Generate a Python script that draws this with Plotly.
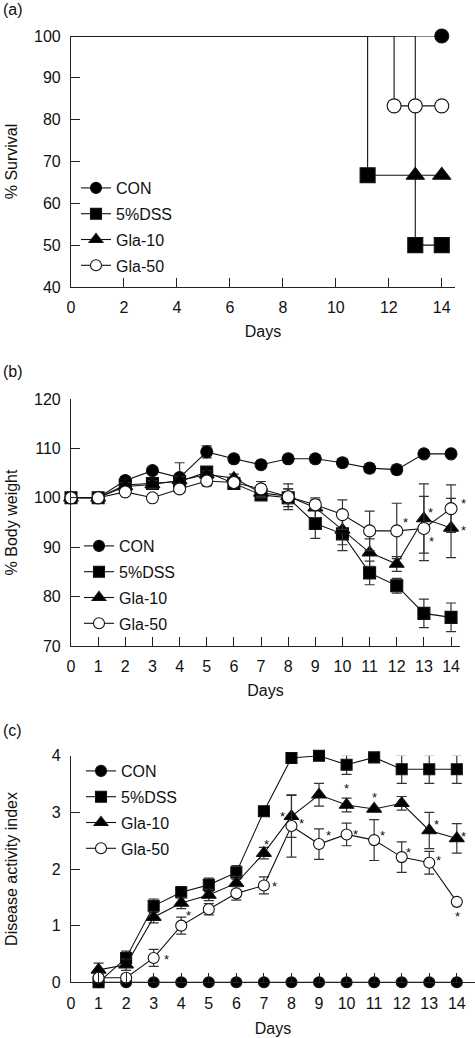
import plotly.graph_objects as go

# ---------------- data ----------------
groups = ["CON", "5%DSS", "Gla-10", "Gla-50"]

# (a) survival (step curves)
surv_days = {
    "CON": [0, 14],
    "5%DSS": [0, 11.2, 13, 14],
    "Gla-10": [0, 13, 14],
    "Gla-50": [0, 12.2, 13, 14],
}
surv_vals = {
    "CON": [100, 100],
    "5%DSS": [100, 66.7, 50, 50],
    "Gla-10": [100, 66.7, 66.7],
    "Gla-50": [100, 83.3, 83.3, 83.3],
}

# (b) body weight
bw_days = list(range(0, 15))
bw_vals = {
    "CON":    [100, 100, 103.5, 105.5, 104.1, 109.3, 107.9, 106.7, 107.9, 107.9, 107.1, 106.0, 105.7, 108.9, 108.9],
    "5%DSS":  [100, 100, 102.6, 102.9, 103.3, 105.2, 102.9, 100.6, 100.0, 94.8, 92.7, 84.8, 82.2, 76.6, 75.8],
    "Gla-10": [100, 100, 102.3, 102.7, 103.5, 104.7, 104.0, 101.0, 100.3, 98.0, 93.5, 88.9, 86.6, 95.8, 93.9],
    "Gla-50": [100, 100, 101.2, 100.0, 101.8, 103.4, 103.1, 101.8, 100.2, 98.6, 96.6, 93.3, 93.3, 93.8, 97.8],
}
bw_err = {
    "CON":    [0, 0, 0.8, 0.6, 3.0, 1.2, 0.8, 0.8, 0.8, 0.8, 0.8, 0.9, 0.9, 0.5, 0.5],
    "5%DSS":  [0, 0, 0.5, 0.8, 1.0, 0.8, 0.7, 0.8, 1.8, 3.0, 3.4, 2.4, 1.5, 2.9, 2.9],
    "Gla-10": [0, 0, 0.8, 0.8, 0.8, 0.8, 0.8, 1.0, 1.5, 2.0, 3.0, 2.8, 1.5, 7.0, 6.0],
    "Gla-50": [0, 0, 0.6, 0.5, 0.6, 1.0, 0.8, 1.5, 2.6, 1.0, 3.0, 4.0, 5.6, 6.5, 4.8],
}
bw_sig = {"Gla-10": [13, 14], "Gla-50": [12, 13, 14]}

# (c) disease activity index
dai_days = list(range(1, 15))
dai_vals = {
    "CON":    [0] * 14,
    "5%DSS":  [0, 0.43, 1.35, 1.59, 1.72, 1.94, 3.02, 3.96, 4.0, 3.84, 3.97, 3.76, 3.76, 3.76],
    "Gla-10": [0.22, 0.31, 1.15, 1.40, 1.54, 1.75, 2.28, 2.93, 3.31, 3.13, 3.06, 3.16, 2.68, 2.54],
    "Gla-50": [0.08, 0.08, 0.43, 1.00, 1.29, 1.57, 1.71, 2.76, 2.44, 2.61, 2.51, 2.21, 2.11, 1.42],
}
dai_err = {
    "CON":    [0] * 14,
    "5%DSS":  [0, 0.12, 0.12, 0.10, 0.12, 0.12, 0.05, 0, 0, 0.17, 0, 0.25, 0.25, 0.25],
    "Gla-10": [0.12, 0.10, 0.10, 0.10, 0.10, 0.12, 0.10, 0.37, 0.20, 0.12, 0, 0.12, 0.32, 0.26],
    "Gla-50": [0.06, 0.06, 0.15, 0.15, 0.10, 0.12, 0.15, 0.55, 0.27, 0.20, 0.36, 0.27, 0.20, 0],
}
dai_sig = {"Gla-10": [7, 8, 10, 11, 13, 14], "Gla-50": [3, 4, 7, 8, 9, 10, 11, 12, 13, 14]}

# ---------------- styles ----------------
FONT = "Liberation Sans, Arial, Helvetica, sans-serif"
INK = "#111111"
AX = "#222222"
sym = {"CON": "circle", "5%DSS": "square", "Gla-10": "triangle-up", "Gla-50": "circle"}
fill = {"CON": "black", "5%DSS": "black", "Gla-10": "black", "Gla-50": "white"}
size_a = {"CON": 14, "5%DSS": 15, "Gla-10": 16, "Gla-50": 14}
size_b = {"CON": 12, "5%DSS": 12, "Gla-10": 13, "Gla-50": 12}
size_c = {"CON": 11, "5%DSS": 11, "Gla-10": 13, "Gla-50": 11}
size_leg = {"CON": 11, "5%DSS": 11, "Gla-10": 12, "Gla-50": 11}

# asterisk pixel offsets (dx right, dy down) relative to the marker
bw_sig_off = {
    ("Gla-50", 12): (9, -11), ("Gla-10", 13): (7, -9), ("Gla-50", 13): (8, 10),
    ("Gla-50", 14): (12, -8), ("Gla-10", 14): (12, 0),
}
dai_sig_off = {
    ("Gla-10", 7): (3, -12), ("Gla-10", 8): (-9, -3), ("Gla-10", 10): (0, -19),
    ("Gla-10", 11): (0, -14), ("Gla-10", 13): (7, -9), ("Gla-10", 14): (7, -5),
    ("Gla-50", 3): (13, -1), ("Gla-50", 4): (7, -13), ("Gla-50", 7): (11, -2),
    ("Gla-50", 8): (10, -5), ("Gla-50", 9): (9, -12), ("Gla-50", 10): (9, -3),
    ("Gla-50", 11): (8, -8), ("Gla-50", 12): (7, -8), ("Gla-50", 13): (9, -5),
    ("Gla-50", 14): (1, 12),
}

W, H = 475, 1038

def px_x(a, b):
    return [a / W, min(1.0, b / W)]

def px_y(top, bottom):
    return [1 - bottom / H, 1 - top / H]

def fx(px):
    return px / W

def fy(py):
    return 1 - py / H

fig = go.Figure()

def legend_entry(g, legend_id, xa, ya):
    # legend-only sample (no data drawn)
    fig.add_trace(go.Scatter(
        x=[None], y=[None], mode="lines+markers", name=g, legend=legend_id,
        legendgroup=legend_id + g, showlegend=True,
        line=dict(color=INK, width=1.1),
        marker=dict(symbol=sym[g], size=size_leg[g], color=fill[g], line=dict(color=INK, width=1.1)),
        xaxis=xa, yaxis=ya, hoverinfo="skip",
    ))

# (a) survival
for g in groups:
    fig.add_trace(go.Scatter(
        x=surv_days[g], y=surv_vals[g], mode="lines", showlegend=False,
        line=dict(color=INK, width=1.1, shape="hv"),
        xaxis="x", yaxis="y", cliponaxis=False, hoverinfo="skip",
    ))
for g in groups:
    fig.add_trace(go.Scatter(
        x=surv_days[g][1:], y=surv_vals[g][1:], mode="markers", name=g, showlegend=False,
        marker=dict(symbol=sym[g], size=size_a[g], color=fill[g], line=dict(color=INK, width=1.1)),
        xaxis="x", yaxis="y", cliponaxis=False,
    ))
for g in groups:
    legend_entry(g, "legend", "x", "y")

# (b) body weight
for g in groups:
    fig.add_trace(go.Scatter(
        x=bw_days, y=bw_vals[g], mode="lines+markers", name=g, showlegend=False,
        line=dict(color=INK, width=1.1),
        marker=dict(symbol=sym[g], size=size_b[g], color=fill[g], line=dict(color=INK, width=1.1)),
        error_y=dict(type="data", array=bw_err[g], visible=True, color="#333333", thickness=1.2, width=5),
        xaxis="x2", yaxis="y2", cliponaxis=False,
    ))
for g in groups:
    legend_entry(g, "legend2", "x2", "y2")

# (c) DAI
for g in groups:
    fig.add_trace(go.Scatter(
        x=dai_days, y=dai_vals[g], mode="lines+markers", name=g, showlegend=False,
        line=dict(color=INK, width=1.1),
        marker=dict(symbol=sym[g], size=size_c[g], color=fill[g], line=dict(color=INK, width=1.1)),
        error_y=dict(type="data", array=dai_err[g], visible=True, color="#333333", thickness=1.2, width=5),
        xaxis="x3", yaxis="y3", cliponaxis=False,
    ))
for g in groups:
    legend_entry(g, "legend3", "x3", "y3")

ann = []
for g, days in bw_sig.items():
    for d in days:
        dx, dy = bw_sig_off[(g, d)]
        ann.append(dict(text="*", x=d, y=bw_vals[g][bw_days.index(d)], xref="x2", yref="y2",
                        xshift=dx, yshift=-dy - 3, showarrow=False, font=dict(size=13, family=FONT, color=INK)))
for g, days in dai_sig.items():
    for d in days:
        dx, dy = dai_sig_off[(g, d)]
        ann.append(dict(text="*", x=d, y=dai_vals[g][dai_days.index(d)], xref="x3", yref="y3",
                        xshift=dx, yshift=-dy - 3, showarrow=False, font=dict(size=13, family=FONT, color=INK)))

for lab, ypx in [("(a)", 10), ("(b)", 371), ("(c)", 730)]:
    ann.append(dict(text=lab, x=fx(1), y=fy(ypx), xref="paper", yref="paper", xanchor="left",
                    yanchor="middle", showarrow=False, font=dict(size=16, family=FONT, color=INK)))

def xax(domain, rng, tickvals, anchor, standoff=10):
    return dict(domain=domain, range=rng, tickvals=tickvals, anchor=anchor, showline=True,
                linecolor=AX, linewidth=1.2, ticks="inside", ticklen=9, tickcolor=AX, tickwidth=1.2,
                showgrid=False, zeroline=False, tickfont=dict(size=16, family=FONT, color=INK),
                ticklabelstandoff=6, automargin=False,
                title=dict(text="Days", font=dict(size=16, family=FONT, color=INK), standoff=standoff))

def yax(domain, rng, dtick, anchor, title, standoff):
    return dict(domain=domain, range=rng, dtick=dtick, anchor=anchor, showline=True,
                linecolor=AX, linewidth=1.2, ticks="inside", ticklen=9, tickcolor=AX, tickwidth=1.2,
                showgrid=False, zeroline=False, tickfont=dict(size=16, family=FONT, color=INK),
                ticklabelstandoff=6, automargin=False,
                title=dict(text=title, font=dict(size=16, family=FONT, color=INK), standoff=standoff))

def leg(xpx, ymid):
    return dict(x=fx(xpx), y=fy(ymid), xanchor="left", yanchor="middle", bgcolor="rgba(0,0,0,0)",
                font=dict(size=16, family=FONT, color=INK), tracegroupgap=2,
                itemclick=False, itemdoubleclick=False)

fig.update_layout(
    width=W, height=H, margin=dict(l=0, r=0, t=0, b=0, autoexpand=False),
    paper_bgcolor="white", plot_bgcolor="white", showlegend=True,
    font=dict(family=FONT, color=INK),
    xaxis=xax(px_x(71, 455), [0, 14.5], list(range(0, 15, 2)), "y"),
    yaxis=yax(px_y(36, 287), [40, 100], 10, "x", "% Survival", 12),
    xaxis2=xax(px_x(71, 460), [0, 14.33], list(range(0, 15)), "y2"),
    yaxis2=yax(px_y(399, 646), [70, 120], 10, "x2", "% Body weight", 12),
    xaxis3=xax(px_x(71, 475), [0, 14.66], list(range(0, 15)), "y3", standoff=12),
    yaxis3=yax(px_y(755.7, 982.3), [0, 4], 1, "x3", "Disease activity index", 30),
    legend=leg(76, 227),
    legend2=leg(79, 585),
    legend3=leg(81, 810),
    annotations=ann,
)

# the page's default 8px body margin would push the 475x1038 figure out of the window
fig.write_html("out.html", config={"displayModeBar": False},
               post_script="document.body.style.margin='0px';")
